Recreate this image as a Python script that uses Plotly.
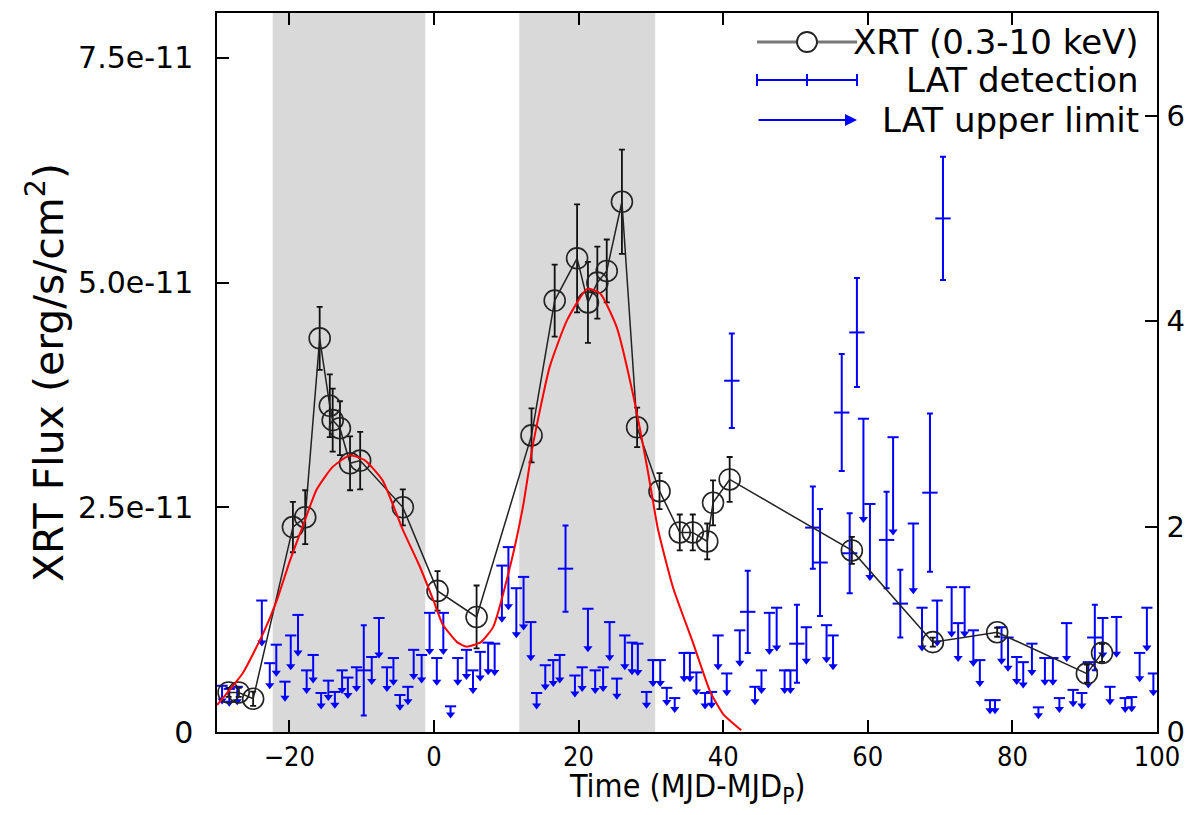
import plotly.graph_objects as go

# ---------------- data ----------------
# XRT (0.3-10 keV) flux, in units of 1e-11 erg/s/cm^2
xrt_time = [-28.4, -27.0, -25.0, -19.5, -17.8, -15.8, -14.4, -14.0, -13.0, -11.6, -10.2, -4.3,
            0.5, 5.9, 13.5, 16.7, 19.8, 21.3, 22.6, 23.9, 26.0, 28.1, 31.2, 34.0, 35.8, 37.8,
            38.6, 40.9, 57.8, 69.0, 77.9, 90.3, 92.4]
xrt_flux = [0.44, 0.44, 0.37, 2.28, 2.39, 4.38, 3.63, 3.47, 3.38, 2.99, 3.02, 2.50,
            1.57, 1.28, 3.30, 4.80, 5.27, 4.78, 5.00, 5.13, 5.90, 3.39, 2.68, 2.22, 2.22, 2.12,
            2.55, 2.81, 2.02, 1.00, 1.11, 0.65, 0.88]
xrt_err = [0.05, 0.05, 0.08, 0.28, 0.30, 0.35, 0.35, 0.35, 0.30, 0.30, 0.32, 0.20,
           0.22, 0.35, 0.30, 0.40, 0.60, 0.45, 0.40, 0.35, 0.58, 0.22, 0.20, 0.20, 0.20, 0.20,
           0.25, 0.25, 0.15, 0.05, 0.05, 0.10, 0.10]

# red model curve, units of 1e-11
model_time = [-30, -26.4, -23.6, -21.7, -19.9, -18.1, -16.2, -14.0, -11.6, -9.5, -7.1, -4.3,
              -2.0, 0.0, 1.2, 3.2, 4.5, 6.5, 8.2, 10.5, 12.3, 13.7, 16.0, 18.4, 21.2, 23.0,
              25.3, 27.5, 29.5, 31.0, 33.1, 35.8, 38.2, 40.0, 42.5]
model_flux = [0.30, 0.66, 1.10, 1.47, 1.91, 2.30, 2.70, 2.95, 3.08, 3.02, 2.80, 2.25,
              1.85, 1.45, 1.20, 1.00, 0.95, 1.00, 1.17, 1.83, 2.50, 3.20, 4.06, 4.58, 4.93, 4.88,
              4.50, 3.77, 2.94, 2.25, 1.60, 1.00, 0.45, 0.20, 0.02]

# LAT detections (right axis)
lat_time = [-9.7, 18.2, 41.2, 43.4, 50.2, 52.4, 53.4, 56.4, 57.5, 58.5, 62.6, 64.5, 68.6, 70.4, 91.4]
lat_flux = [0.60, 1.59, 3.42, 1.17, 0.86, 1.99, 1.65, 3.11, 1.74, 3.89, 1.87, 1.25, 2.33, 5.00, 0.92]
lat_err = [0.44, 0.42, 0.46, 0.40, 0.38, 0.40, 0.52, 0.57, 0.39, 0.53, 0.47, 0.33, 0.77, 0.60, 0.32]

# LAT upper limits (right axis)
ul_time = [-29.3, -28.3, -27.2, -23.8, -22.7, -21.8, -20.6, -19.8, -18.8, -17.6, -16.7, -15.6, -14.6,
           -13.7, -12.7, -11.9, -10.7, -8.6, -7.6, -6.5, -5.6, -4.7, -3.6, -2.8, -1.7, -0.6, 0.4,
           1.3, 2.3, 3.3, 4.5, 5.4, 6.4, 7.5, 8.4, 9.4, 10.3, 11.4, 12.4, 13.4, 14.2, 15.4, 16.5,
           17.4, 19.5, 20.5, 21.3, 22.3, 23.4, 24.3, 25.3, 26.4, 27.4, 28.2, 29.4, 30.3, 31.3,
           32.2, 33.3, 34.6, 35.4, 36.3, 37.5, 38.4, 39.3, 40.5, 42.3, 44.4, 45.3, 46.4, 47.4,
           48.5, 49.3, 51.5, 54.3, 55.2, 59.4, 60.3, 63.5, 66.3, 67.5, 69.6, 71.6, 72.5, 73.4,
           74.6, 75.5, 76.9, 77.6, 78.5, 79.4, 80.6, 81.5, 82.7, 83.6, 84.5, 85.6, 86.5, 87.5,
           88.4, 89.6, 90.5, 92.5, 93.5, 94.4, 95.6, 96.5, 97.6, 98.6, 99.5]
ul_value = [0.45, 0.42, 0.44, 1.28, 0.67, 0.85, 0.49, 0.94, 1.14, 0.60, 0.75, 0.38, 0.50,
            0.39, 0.60, 0.53, 0.63, 0.73, 1.11, 0.63, 0.72, 0.36, 0.44, 0.80, 0.75, 1.16, 0.72,
            1.16, 0.25, 0.72, 0.80, 0.60, 0.78, 0.87, 0.86, 1.62, 1.80, 1.40, 1.51, 1.07, 0.38,
            0.65, 0.70, 0.75, 0.55, 0.63, 1.20, 0.60, 0.63, 1.07, 0.52, 0.94, 0.87, 0.86, 0.39,
            0.70, 0.70, 0.43, 0.33, 0.77, 0.77, 0.58, 0.38, 0.39, 0.94, 0.57, 0.99, 0.44, 0.60,
            1.16, 1.21, 0.60, 0.60, 1.02, 1.04, 0.94, 3.05, 2.22, 2.87, 2.03, 1.21, 1.28, 1.41,
            1.06, 1.41, 0.99, 0.70, 0.31, 0.31, 1.02, 0.92, 0.73, 0.68, 0.86, 0.24, 0.72, 0.72,
            0.33, 1.06, 0.41, 0.38, 0.68, 1.11, 0.44, 1.12, 0.33, 0.34, 0.77, 1.21, 0.57]

# shaded intervals
band_start = [-22.3, 11.8]
band_end = [-1.2, 30.6]

# axis tick labels
left_tickvals = [0, 2.5, 5.0, 7.5]
left_ticktext = ["0", "2.5e-11", "5.0e-11", "7.5e-11"]
right_tickvals = [0, 2, 4, 6]
x_tickvals = [-20, 0, 20, 40, 60, 80, 100]

# ---------------- style ----------------
BLUE = "#0000ff"
ARROW_FRAC = 0.68  # drawn arrow length as fraction of the limit (style)
WIDE = "DejaVu Sans, Liberation Sans, Arial, sans-serif"
NARROW = "Liberation Sans Narrow, DejaVu Sans Condensed, Liberation Sans, Arial, sans-serif"

# page offsets (browser body margin is 8px)
PAGE_OFF = 8
PLOT_L, PLOT_R, PLOT_T, PLOT_B = 217, 1157, 13, 732   # plot box in page pixels
FIG_W, FIG_H = 1192 - 2 * PAGE_OFF, 815 - 2 * PAGE_OFF

fig = go.Figure()

# upper-limit arrows (primary y = right axis)
stem_x, stem_y, tip_y = [], [], []
for t, v in zip(ul_time, ul_value):
    stem_x += [t, t, None]
    stem_y += [v, v * ARROW_FRAC, None]
    tip_y.append(v * ARROW_FRAC)

fig.add_trace(go.Scatter(x=stem_x, y=stem_y, mode="lines", yaxis="y",
                         line=dict(color=BLUE, width=2), hoverinfo="skip", showlegend=False))
fig.add_trace(go.Scatter(x=ul_time, y=ul_value, mode="markers", yaxis="y",
                         marker=dict(symbol="line-ew", size=8, line=dict(color=BLUE, width=2)),
                         showlegend=False))
fig.add_trace(go.Scatter(x=ul_time, y=tip_y, mode="markers", yaxis="y",
                         marker=dict(symbol="triangle-down", size=8, color=BLUE),
                         showlegend=False))

# LAT detections
fig.add_trace(go.Scatter(x=lat_time, y=lat_flux, mode="markers", yaxis="y",
                         marker=dict(symbol="line-ew", size=11, line=dict(color=BLUE, width=2)),
                         error_y=dict(type="data", array=lat_err, color=BLUE, thickness=2, width=3),
                         showlegend=False))

# XRT light curve (left axis = y2)
fig.add_trace(go.Scatter(x=xrt_time, y=xrt_flux, mode="lines+markers", yaxis="y2",
                         line=dict(color="#222222", width=1.5),
                         marker=dict(symbol="circle-open", size=21, color="#222222",
                                     line=dict(width=1.6)),
                         error_y=dict(type="data", array=xrt_err, color="#111111",
                                      thickness=1.8, width=3),
                         showlegend=False))

# red model
fig.add_trace(go.Scatter(x=model_time, y=model_flux, mode="lines", yaxis="y2",
                         line=dict(color="#ff0000", width=2, shape="spline", smoothing=0.5),
                         showlegend=False))

# shaded bands
for s, e in zip(band_start, band_end):
    fig.add_shape(type="rect", xref="x", yref="paper", x0=s, x1=e, y0=0, y1=1,
                  fillcolor="#d9d9d9", line=dict(width=0), layer="below")

# ---------------- custom legend ----------------
def px_x(p):
    return (p - PLOT_L) / (PLOT_R - PLOT_L)

def px_y(p):
    return (PLOT_B - p) / (PLOT_B - PLOT_T)

x0, x1, xc = px_x(757), px_x(857), px_x(807)
r1, r2, r3 = px_y(42), px_y(80), px_y(120)
# row 1: line + open circle
fig.add_shape(type="line", xref="paper", yref="paper", x0=x0, x1=x1, y0=r1, y1=r1,
              line=dict(color="#777777", width=3))
fig.add_shape(type="circle", xref="paper", yref="paper", xsizemode="pixel", ysizemode="pixel",
              xanchor=xc, yanchor=r1, x0=-10, x1=10, y0=-10, y1=10,
              fillcolor="white", line=dict(color="#222222", width=1.8))
# row 2: horizontal error bar
fig.add_shape(type="line", xref="paper", yref="paper", x0=x0, x1=x1, y0=r2, y1=r2,
              line=dict(color=BLUE, width=2))
for xx in (x0, xc, x1):
    fig.add_shape(type="line", xref="paper", yref="paper", xsizemode="pixel", ysizemode="pixel",
                  xanchor=xx, yanchor=r2, x0=0, x1=0, y0=-6, y1=6,
                  line=dict(color=BLUE, width=2))
# row 3: arrow
fig.add_annotation(xref="paper", yref="paper", x=x1, y=r3, ax=-100, ay=0, text="",
                   showarrow=True, arrowhead=2, arrowsize=1.2, arrowwidth=2, arrowcolor=BLUE)
legend_font = dict(family=WIDE, size=34, color="black")
for txt, yy in (("XRT (0.3-10 keV)", r1), ("LAT detection", r2), ("LAT upper limit", r3)):
    fig.add_annotation(xref="paper", yref="paper", x=px_x(1141), y=yy, text=txt,
                       showarrow=False, xanchor="right", yanchor="middle", font=legend_font)

# x-axis title as a positioned annotation
fig.add_annotation(xref="paper", yref="paper", x=0.5, y=px_y(788), text="Time (MJD-MJD<sub>P</sub>)",
                   showarrow=False, xanchor="center", yanchor="middle", borderpad=0,
                   font=dict(family=NARROW, size=32, color="black"))

# ---------------- layout ----------------
fig.update_layout(
    width=FIG_W, height=FIG_H,
    margin=dict(l=PLOT_L - PAGE_OFF, r=FIG_W - (PLOT_R - PAGE_OFF),
                t=PLOT_T - PAGE_OFF, b=FIG_H - (PLOT_B - PAGE_OFF), pad=0),
    paper_bgcolor="white", plot_bgcolor="white",
    showlegend=False,
    xaxis=dict(range=[-30, 100], tickvals=x_tickvals, ticks="inside", ticklen=12,
               tickcolor="black", tickwidth=1.5, showline=True, linecolor="black", linewidth=1.5,
               mirror="ticks", showgrid=False, zeroline=False, automargin=False,
               ticklabelstandoff=0,
               tickfont=dict(family=NARROW, size=27, color="black")),
    yaxis=dict(range=[0, 7], side="right", tickvals=right_tickvals, ticks="inside", ticklen=12,
               tickcolor="black", tickwidth=1.5, showline=True, linecolor="black", linewidth=1.5,
               showgrid=False, zeroline=False, automargin=False, ticklabelstandoff=2,
               tickfont=dict(family=WIDE, size=29, color="black")),
    yaxis2=dict(range=[0, 8], side="left", overlaying="y", tickvals=left_tickvals,
                ticktext=left_ticktext, ticks="inside", ticklen=12, tickcolor="black",
                tickwidth=1.5, showline=True, linecolor="black", linewidth=1.5,
                showgrid=False, zeroline=False, ticklabelstandoff=16, automargin=False,
                tickfont=dict(family=WIDE, size=30, color="black"),
                title=dict(text="XRT Flux (erg/s/cm<sup>2</sup>)",
                           font=dict(family=WIDE, size=41, color="black"), standoff=2)),
)

fig.write_html("out.html")
